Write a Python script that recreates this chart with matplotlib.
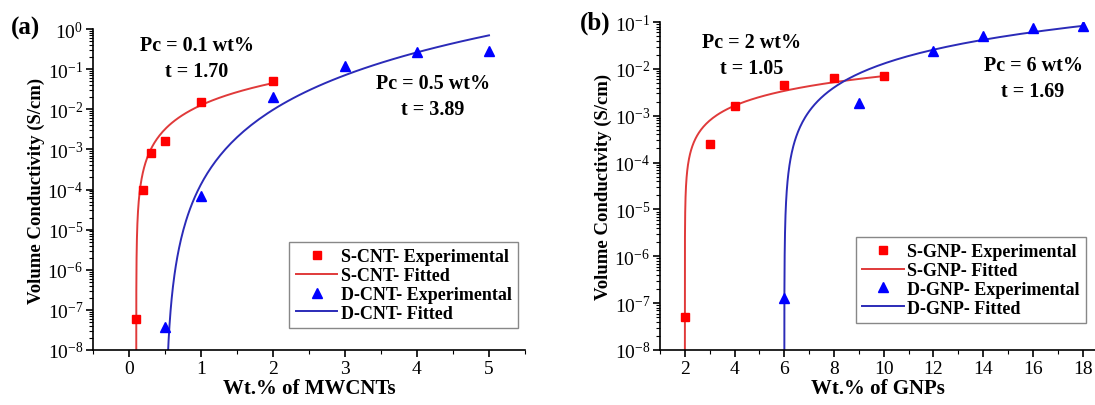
import numpy as np
import matplotlib.pyplot as plt
from matplotlib.ticker import LogLocator, MultipleLocator, NullFormatter

plt.rcParams['font.family'] = ['Liberation Serif', 'DejaVu Serif']
plt.rcParams['mathtext.fontset'] = 'custom'
plt.rcParams['mathtext.rm'] = 'Liberation Serif'

# (a) MWCNTs
cnt_s_x = [0.1, 0.2, 0.3, 0.5, 1, 2]
cnt_s_y = [6e-8, 9.5e-5, 8e-4, 1.6e-3, 1.5e-2, 5e-2]
cnt_d_x = [0.5, 1, 2, 3, 4, 5]
cnt_d_y = [3.7e-8, 7e-5, 2e-2, 0.12, 0.27, 0.29]
# fitted percolation parameters: (Pc, t, sigma0, x_end)
cnt_s_fit = (0.1, 1.70, 0.0151, 2)
cnt_d_fit = (0.5, 3.89, 2.0e-3, 5)
cnt_ticks = [0, 1, 2, 3, 4, 5]

# (b) GNPs
gnp_s_x = [2, 3, 4, 6, 8, 10]
gnp_s_y = [5e-8, 2.5e-4, 1.6e-3, 4.6e-3, 6.3e-3, 7e-3]
gnp_d_x = [6, 9, 12, 14, 16, 18]
gnp_d_y = [1.3e-7, 1.9e-3, 2.4e-2, 5e-2, 7.5e-2, 8.2e-2]
gnp_s_fit = (2, 1.05, 7.9e-4, 10)
gnp_d_fit = (6, 1.69, 1.24e-3, 18)
gnp_ticks = [2, 4, 6, 8, 10, 12, 14, 16, 18]

W, H = 1095, 406
red_m, red_l = '#ff0000', '#e03a3a'
blue_m, blue_l = '#0000ff', '#2b2bb8'


def fit_curve(params):
    pc, t, s0, x_end = params
    dx = np.geomspace(1e-7, x_end - pc, 400)
    return pc + dx, s0 * dx ** t


def style_axes(ax, ylo, yhi):
    ax.set_yscale('log')
    ax.set_ylim(ylo, yhi)
    ax.spines['top'].set_visible(False)
    ax.spines['right'].set_visible(False)
    ax.yaxis.set_major_locator(LogLocator(base=10, numticks=20))
    ax.yaxis.set_minor_locator(LogLocator(base=10, subs=np.arange(2, 10), numticks=20))
    ax.yaxis.set_minor_formatter(NullFormatter())
    ax.tick_params(which='major', direction='out', length=5, width=1.2, labelsize=14, pad=2)
    ax.tick_params(which='minor', direction='out', length=3, width=0.8)
    for sp in ax.spines.values():
        sp.set_linewidth(1.2)
    ax.set_ylabel('Volume Conductivity (S/cm)', fontsize=13.5, fontweight='bold', labelpad=2)


fig = plt.figure(figsize=(W / 100, H / 100), dpi=100)
ax1 = fig.add_axes([93 / W, 1 - 351 / H, 432 / W, 321 / H])
ax2 = fig.add_axes([660 / W, 1 - 351 / H, 435 / W, 328 / H])

leg_kw = dict(loc='lower right', fancybox=False, edgecolor='#888888',
              prop={'weight': 'bold', 'size': 13}, handlelength=2.3,
              handletextpad=0.2, labelspacing=0.1, borderpad=0.35, framealpha=1)
order = [2, 0, 3, 1]

# panel (a)
x, y = fit_curve(cnt_s_fit)
ax1.plot(x, y, color=red_l, lw=1.4, label='S-CNT- Fitted', zorder=2)
x, y = fit_curve(cnt_d_fit)
ax1.plot(x, y, color=blue_l, lw=1.4, label='D-CNT- Fitted', zorder=2)
ax1.plot(cnt_s_x, cnt_s_y, 's', color=red_m, ms=6, ls='none', label='S-CNT- Experimental', zorder=3)
ax1.plot(cnt_d_x, cnt_d_y, '^', color=blue_m, ms=7, ls='none', label='D-CNT- Experimental', zorder=3)
style_axes(ax1, 1e-8, 1)
ax1.set_xlim(-0.5, 5.5)
ax1.set_xticks(cnt_ticks)
ax1.xaxis.set_minor_locator(MultipleLocator(0.5))
ax1.set_xlabel('Wt.% of MWCNTs', fontsize=15, fontweight='bold', labelpad=1)
h, l = ax1.get_legend_handles_labels()
ax1.legend([h[i] for i in order], [l[i] for i in order],
           bbox_to_anchor=(1.005, 0.04), **leg_kw)

# panel (b)
x, y = fit_curve(gnp_s_fit)
ax2.plot(x, y, color=red_l, lw=1.4, label='S-GNP- Fitted', zorder=2)
x, y = fit_curve(gnp_d_fit)
ax2.plot(x, y, color=blue_l, lw=1.4, label='D-GNP- Fitted', zorder=2)
ax2.plot(gnp_s_x, gnp_s_y, 's', color=red_m, ms=6, ls='none', label='S-GNP- Experimental', zorder=3)
ax2.plot(gnp_d_x, gnp_d_y, '^', color=blue_m, ms=7, ls='none', label='D-GNP- Experimental', zorder=3)
style_axes(ax2, 1e-8, 1e-1)
ax2.set_xlim(1, 18.5)
ax2.set_xticks(gnp_ticks)
ax2.xaxis.set_minor_locator(MultipleLocator(1))
ax2.set_xlabel('Wt.% of GNPs', fontsize=15, fontweight='bold', labelpad=1)
h, l = ax2.get_legend_handles_labels()
ax2.legend([h[i] for i in order], [l[i] for i in order],
           bbox_to_anchor=(1.0, 0.055), **leg_kw)

# annotations
def ftext(px, py, s, **kw):
    fig.text(px / W, 1 - py / H, s, ha='center', va='center', fontweight='bold', **kw)

ftext(26, 28, '(a)', fontsize=18)
ftext(595, 23, '(b)', fontsize=18)
ftext(197, 59, 'Pc = 0.1 wt%\nt = 1.70', fontsize=14.5, linespacing=1.35)
ftext(433, 97, 'Pc = 0.5 wt%\nt = 3.89', fontsize=14.5, linespacing=1.35)
ftext(752, 56, 'Pc = 2 wt%\nt = 1.05', fontsize=14.5, linespacing=1.35)
ftext(1033, 79, 'Pc = 6 wt%\nt = 1.69', fontsize=14.5, linespacing=1.35)

fig.savefig('out.png', dpi=100)
